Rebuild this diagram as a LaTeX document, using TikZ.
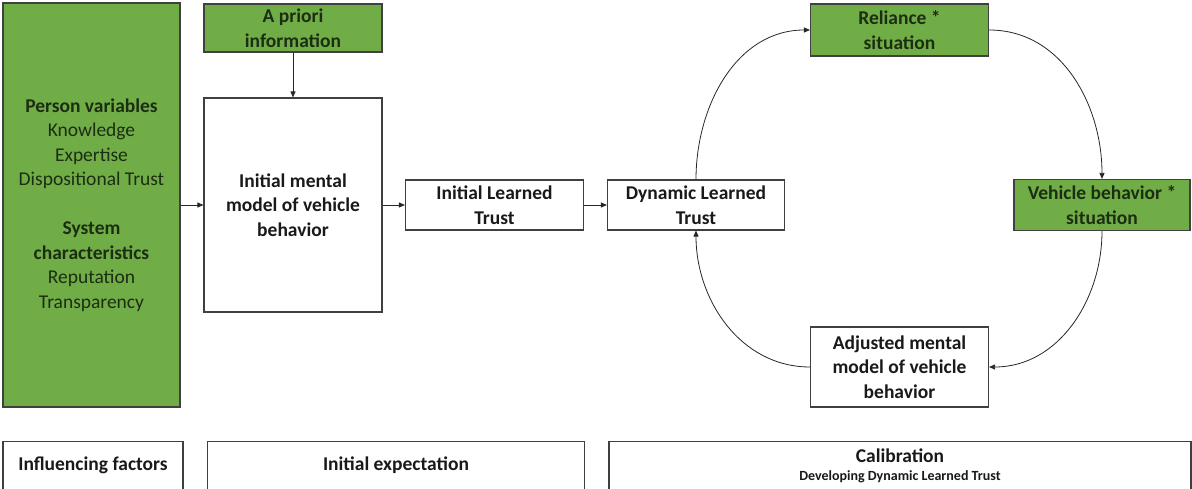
\documentclass[tikz,border=0pt]{standalone}
\usepackage{fontspec}
\setmainfont{Carlito}
\usetikzlibrary{positioning,arrows.meta}

\definecolor{boxgreen}{HTML}{70AD47}
\definecolor{greentext}{HTML}{1C2E12}
\definecolor{boxline}{HTML}{404040}

\tikzset{
  box/.style={draw=boxline, line width=1.1pt, align=center, inner sep=2pt,
    font=\fontsize{19.5}{24.5}\selectfont},
  greenbox/.style={box, fill=boxgreen, text=greentext},
  whitebox/.style={box, fill=white, text=black!90},
  caption/.style={align=center, text=black!90, font=\fontsize{19.5}{24.5}\selectfont\bfseries}
}

\begin{document}
\begin{tikzpicture}[x=1pt, y=1pt, node distance=201.5pt, on grid,
    >={Triangle[length=6pt,width=5pt]},
    every edge/.style={draw=black!85, line width=0.8pt}]
  \useasboundingbox (0,0) rectangle (1192,488);

  % influencing factors and initial expectation
  \node[greenbox, minimum width=177pt, minimum height=404pt] (infl) at (91.5,283)
    {\textbf{Person variables}\\ Knowledge\\ Expertise\\ Dispositional Trust\\[24.5pt]
     \textbf{System}\\ \textbf{characteristics}\\ Reputation\\ Transparency};
  \node[whitebox, minimum width=178pt, minimum height=214pt] (mental) [right=of infl]
    {\textbf{Initial mental}\\ \textbf{model of vehicle}\\ \textbf{behavior}};
  \node[greenbox, minimum width=178pt, minimum height=48pt] (apriori) [above=177pt of mental]
    {\textbf{A priori}\\ \textbf{information}};
  \node[whitebox, minimum width=178pt, minimum height=50pt] (ilt) [right=of mental]
    {\textbf{Initial Learned}\\ \textbf{Trust}};
  \node[whitebox, minimum width=177pt, minimum height=50pt] (dlt) [right=of ilt]
    {\textbf{Dynamic Learned}\\ \textbf{Trust}};

  % calibration cycle
  \node[greenbox, minimum width=178pt, minimum height=52pt] (rel) [above right=175pt and 203.5pt of dlt]
    {\textbf{Reliance *}\\ \textbf{situation}};
  \node[greenbox, minimum width=176pt, minimum height=51pt] (veh) [right=406pt of dlt]
    {\textbf{Vehicle behavior *}\\ \textbf{situation}};
  \node[whitebox, minimum width=178pt, minimum height=80pt] (adj) [below right=162pt and 203.5pt of dlt]
    {\textbf{Adjusted mental}\\ \textbf{model of vehicle}\\ \textbf{behavior}};

  \path[->]
    (apriori) edge (mental)
    (infl)    edge (mental)
    (mental)  edge (ilt)
    (ilt)     edge (dlt)
    (dlt.north) edge[out=90,in=180] (rel.west)
    (rel.east)  edge[out=0,in=90]   (veh.north)
    (veh.south) edge[out=270,in=0]  (adj.east)
    (adj.west)  edge[out=180,in=270] (dlt.south);

  % phase labels
  \node[whitebox, minimum width=180pt, minimum height=60pt, anchor=north] (ph_1) at (93,47) {};
  \node[whitebox, minimum width=377pt, minimum height=60pt, anchor=north] (ph_2) at (396,47) {};
  \node[whitebox, minimum width=582pt, minimum height=60pt, anchor=north] (ph_3) at (900,47) {};
  \node[caption] (ph_1t) at (93,23) {Influencing factors};
  \node[caption] (ph_2t) at (396,23) {Initial expectation};
  \node[caption] (ph_3t) at (900,32) {Calibration};
  \node[caption, font=\fontsize{14}{16}\selectfont\bfseries] (ph_3s) at (900,11) {Developing Dynamic Learned Trust};
\end{tikzpicture}
\end{document}
